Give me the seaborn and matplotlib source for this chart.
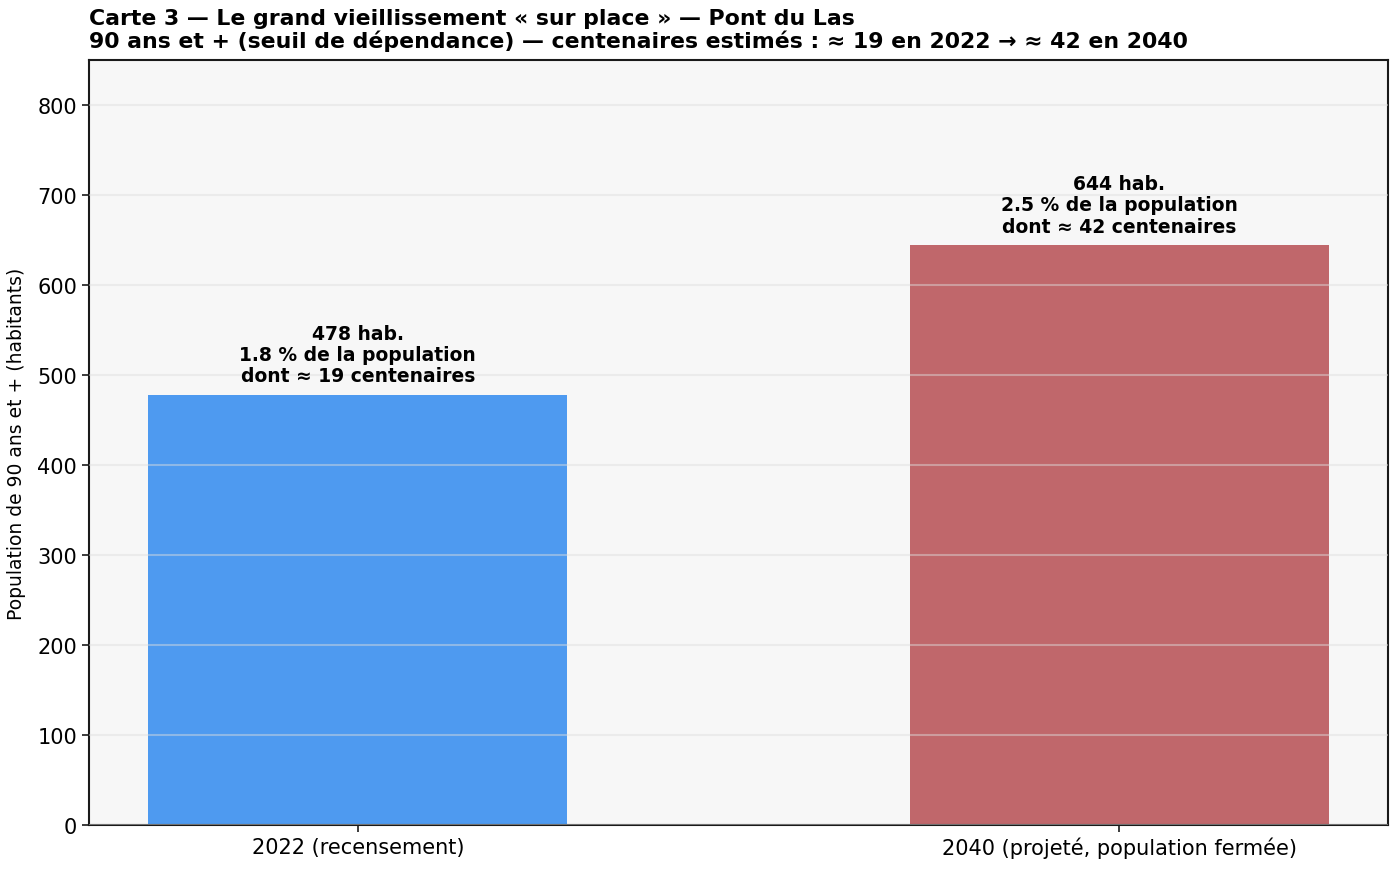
import matplotlib
matplotlib.use("Agg")
import matplotlib.pyplot as plt
import pandas as pd
import seaborn as sns

# Data
periods = ["2022 (recensement)", "2040 (projeté, population fermée)"]
pop_90_plus = [478, 644]
share_pct = [1.8, 2.5]
centenarians = [19, 42]
bar_colors = ["#4e9af0", "#c0676b"]

sns.set_theme(style="white")
plt.rcParams["font.family"] = ["DejaVu Sans"]
plt.rcParams["text.color"] = "black"
plt.rcParams["axes.labelcolor"] = "black"
plt.rcParams["xtick.color"] = "black"
plt.rcParams["ytick.color"] = "black"

df = pd.DataFrame({"periode": periods, "pop": pop_90_plus})

fig = plt.figure(figsize=(13.95, 8.7), dpi=100)
ax = fig.add_axes([0.0638, 0.0506, 0.9312, 0.8793])
ax.set_facecolor("#f7f7f7")

sns.barplot(data=df, x="periode", y="pop", hue="periode", palette=bar_colors,
            width=0.55, legend=False, saturation=1, linewidth=0, ax=ax)

ax.set_xlim(-0.353, 1.353)
ax.set_ylim(0, 850)
ax.set_axisbelow(False)
ax.yaxis.grid(True, color="#dddddd", alpha=0.45, linewidth=1.5)
ax.xaxis.grid(False)

for i, (v, s, c) in enumerate(zip(pop_90_plus, share_pct, centenarians)):
    ax.annotate(f"{v} hab.\n{s} % de la population\ndont ≈ {c} centenaires",
                xy=(i, v), xytext=(0, 7), textcoords="offset points",
                ha="center", va="bottom", fontsize=13.5, fontweight="bold",
                linespacing=1.15)

for sp in ax.spines.values():
    sp.set_color("#1a1a1a")
    sp.set_linewidth(1.5)

ax.tick_params(axis="both", which="major", length=5, width=1.2, color="#1a1a1a",
               labelsize=15, bottom=True, left=True)
ax.set_xlabel("")
ax.set_ylabel("Population de 90 ans et + (habitants)", fontsize=13.5, labelpad=8)
ax.set_title("Carte 3 — Le grand vieillissement « sur place » — Pont du Las\n"
             "90 ans et + (seuil de dépendance) — centenaires estimés : ≈ 19 en 2022 → ≈ 42 en 2040",
             loc="left", fontsize=15.8, fontweight="bold", pad=9, linespacing=1.1)

fig.savefig("out.png", dpi=100)
